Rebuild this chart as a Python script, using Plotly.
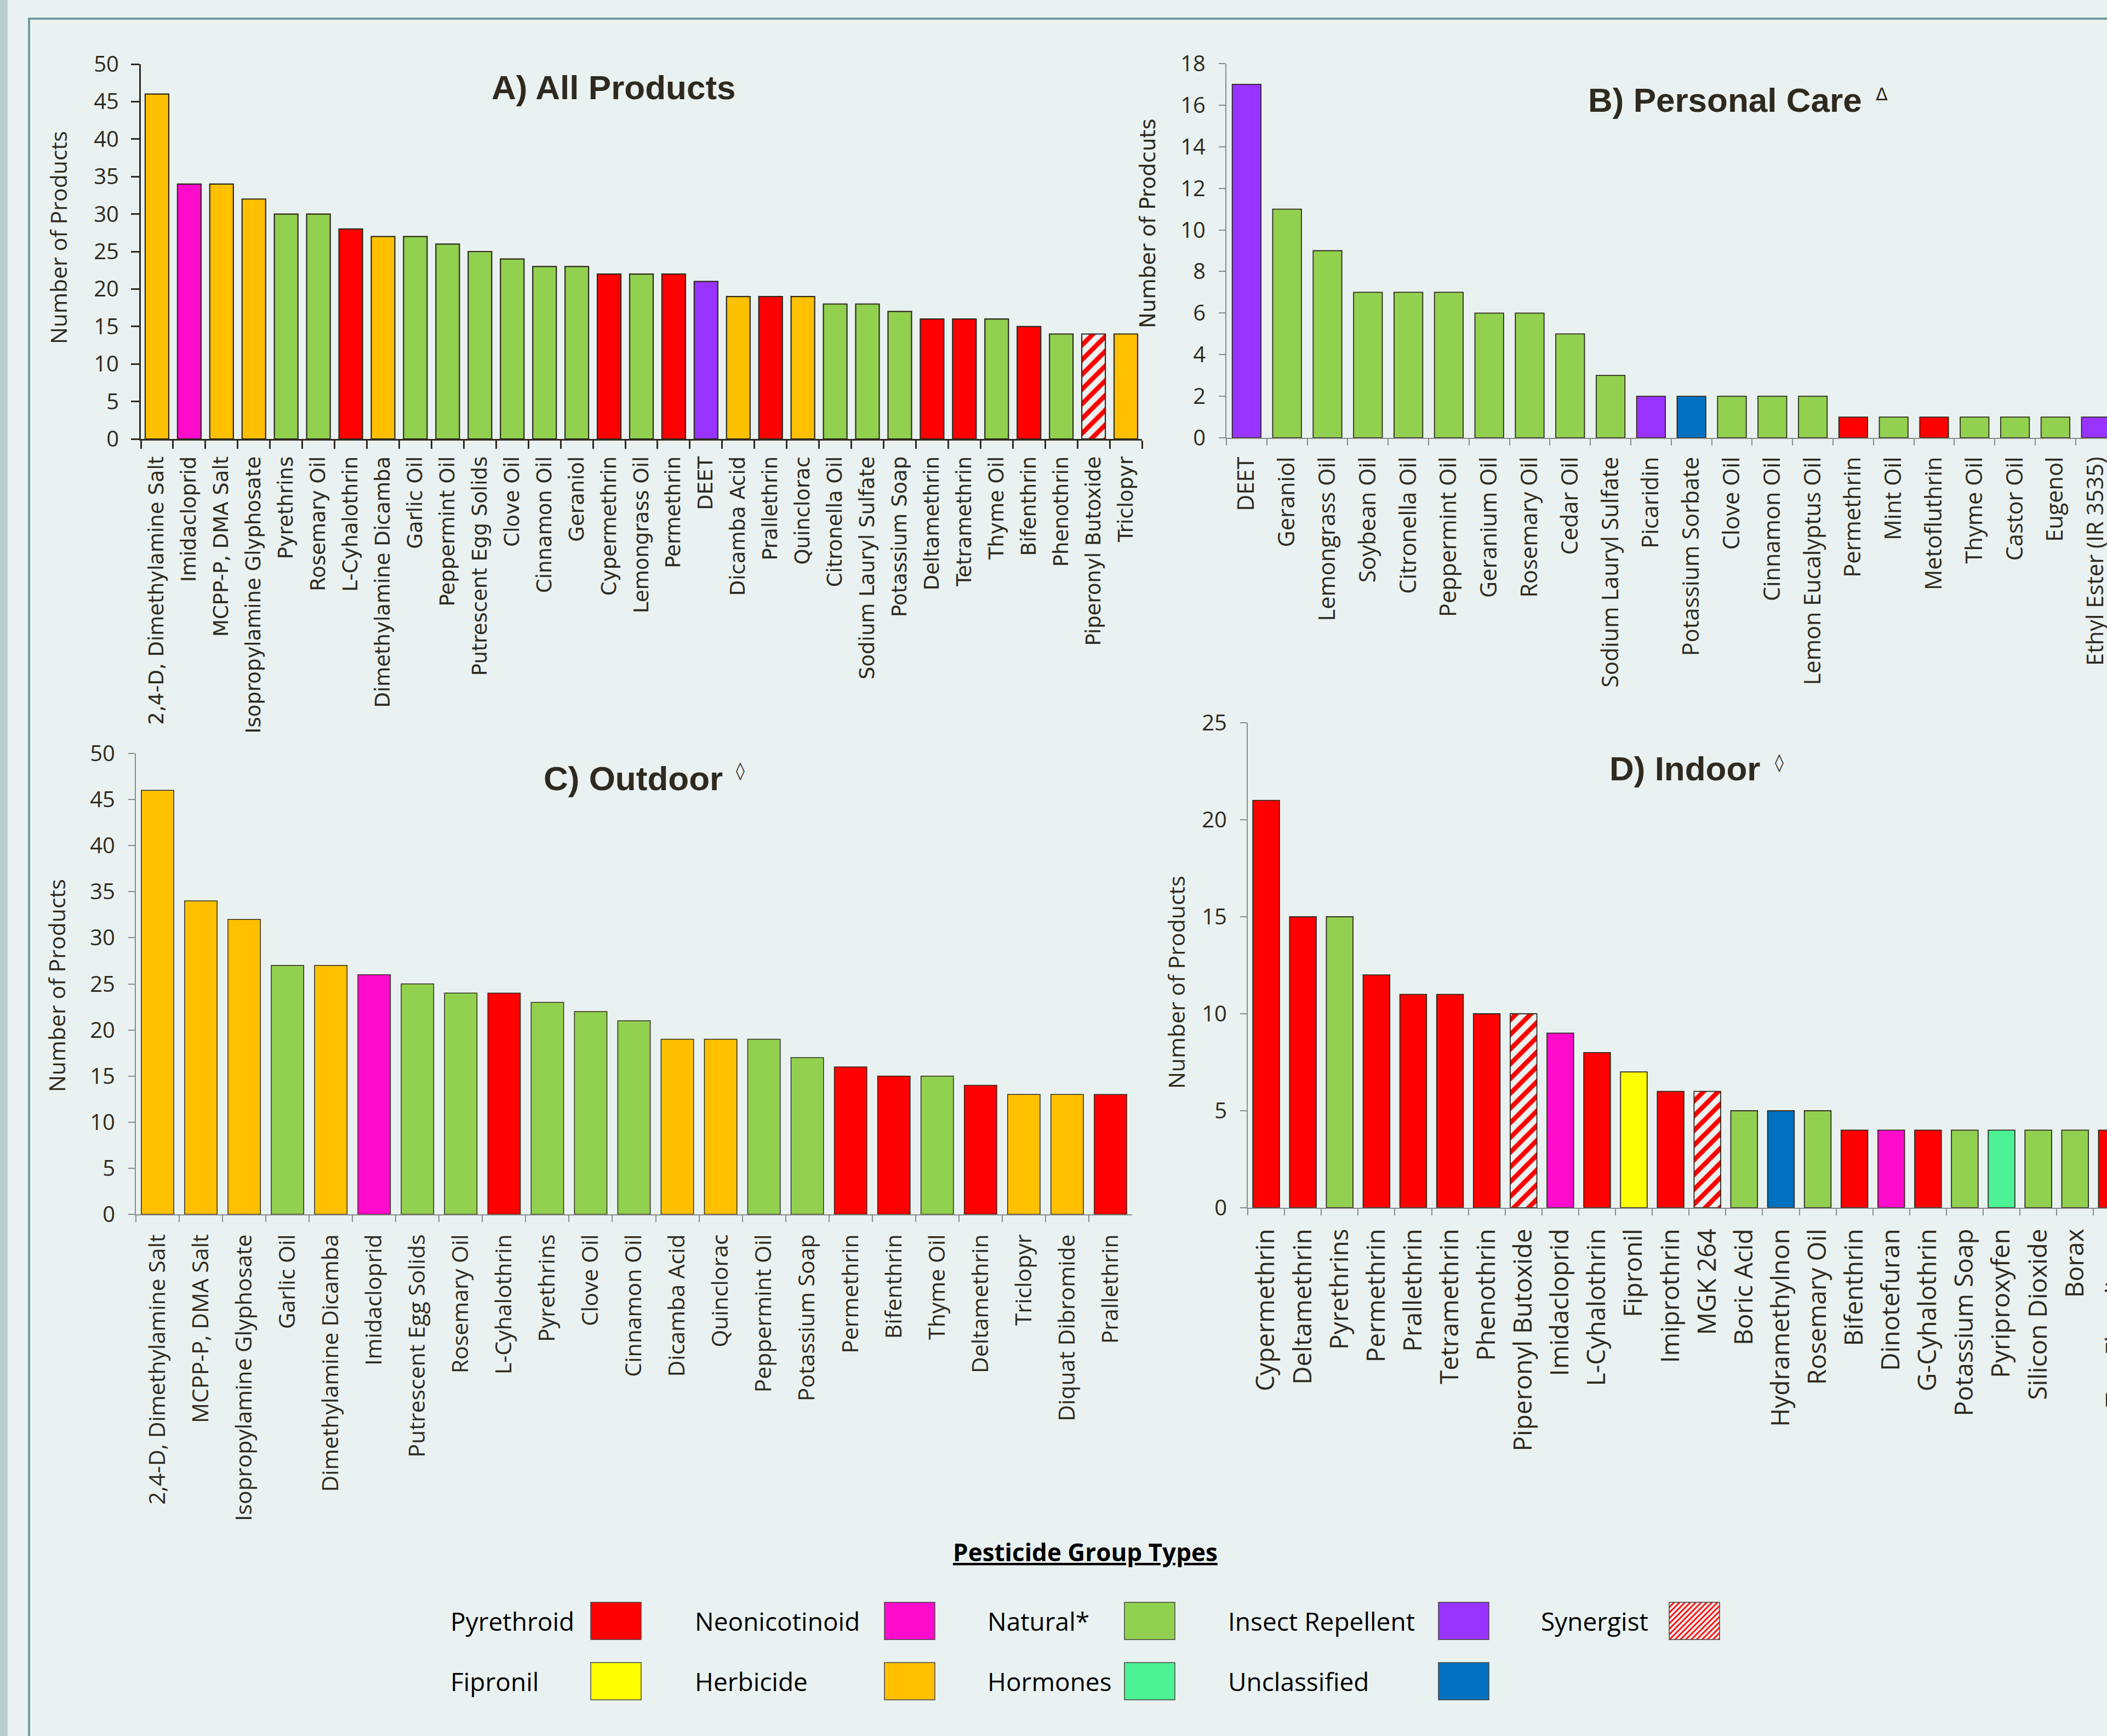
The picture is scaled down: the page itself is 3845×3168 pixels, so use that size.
import plotly.graph_objects as go

W, H = 3845, 3168

# ---------------- data ----------------
GROUP_NAMES = ["Pyrethroid", "Neonicotinoid", "Natural*", "Insect Repellent", "Synergist",
               "Fipronil", "Herbicide", "Hormones", "Unclassified"]
GROUP_KEYS = ["P", "N", "G", "R", "S", "F", "H", "M", "U"]
GROUP_COLORS = ["#FF0000", "#FF0BCC", "#92D050", "#9933FF", "#FF0000",
                "#FFFF00", "#FFC000", "#4CF294", "#0070C0"]

A_names = ["2,4-D, Dimethylamine Salt", "Imidacloprid", "MCPP-P, DMA Salt", "Isopropylamine Glyphosate",
           "Pyrethrins", "Rosemary Oil", "L-Cyhalothrin", "Dimethylamine Dicamba", "Garlic Oil",
           "Peppermint Oil", "Putrescent Egg Solids", "Clove Oil", "Cinnamon Oil", "Geraniol",
           "Cypermethrin", "Lemongrass Oil", "Permethrin", "DEET", "Dicamba Acid", "Prallethrin",
           "Quinclorac", "Citronella Oil", "Sodium Lauryl Sulfate", "Potassium Soap", "Deltamethrin",
           "Tetramethrin", "Thyme Oil", "Bifenthrin", "Phenothrin", "Piperonyl Butoxide", "Triclopyr"]
A_values = [46, 34, 34, 32, 30, 30, 28, 27, 27, 26, 25, 24, 23, 23, 22, 22, 22, 21, 19, 19,
            19, 18, 18, 17, 16, 16, 16, 15, 14, 14, 14]
A_groups = ["H", "N", "H", "H", "G", "G", "P", "H", "G", "G", "G", "G", "G", "G", "P", "G", "P", "R",
            "H", "P", "H", "G", "G", "G", "P", "P", "G", "P", "G", "S", "H"]

B_names = ["DEET", "Geraniol", "Lemongrass Oil", "Soybean Oil", "Citronella Oil", "Peppermint Oil",
           "Geranium Oil", "Rosemary Oil", "Cedar Oil", "Sodium Lauryl Sulfate", "Picaridin",
           "Potassium Sorbate", "Clove Oil", "Cinnamon Oil", "Lemon Eucalyptus Oil", "Permethrin",
           "Mint Oil", "Metofluthrin", "Thyme Oil", "Castor Oil", "Eugenol", "Ethyl Ester (IR 3535)"]
B_values = [17, 11, 9, 7, 7, 7, 6, 6, 5, 3, 2, 2, 2, 2, 2, 1, 1, 1, 1, 1, 1, 1]
B_groups = ["R", "G", "G", "G", "G", "G", "G", "G", "G", "G", "R", "U", "G", "G", "G", "P",
            "G", "P", "G", "G", "G", "R"]

C_names = ["2,4-D, Dimethylamine Salt", "MCPP-P, DMA Salt", "Isopropylamine Glyphosate", "Garlic Oil",
           "Dimethylamine Dicamba", "Imidacloprid", "Putrescent Egg Solids", "Rosemary Oil",
           "L-Cyhalothrin", "Pyrethrins", "Clove Oil", "Cinnamon Oil", "Dicamba Acid", "Quinclorac",
           "Peppermint Oil", "Potassium Soap", "Permethrin", "Bifenthrin", "Thyme Oil", "Deltamethrin",
           "Triclopyr", "Diquat Dibromide", "Prallethrin"]
C_values = [46, 34, 32, 27, 27, 26, 25, 24, 24, 23, 22, 21, 19, 19, 19, 17, 16, 15, 15, 14, 13, 13, 13]
C_groups = ["H", "H", "H", "G", "H", "N", "G", "G", "P", "G", "G", "G", "H", "H", "G", "G", "P", "P",
            "G", "P", "H", "H", "P"]

D_names = ["Cypermethrin", "Deltamethrin", "Pyrethrins", "Permethrin", "Prallethrin", "Tetramethrin",
           "Phenothrin", "Piperonyl Butoxide", "Imidacloprid", "L-Cyhalothrin", "Fipronil", "Imiprothrin",
           "MGK 264", "Boric Acid", "Hydramethylnon", "Rosemary Oil", "Bifenthrin", "Dinotefuran",
           "G-Cyhalothrin", "Potassium Soap", "Pyriproxyfen", "Silicon Dioxide", "Borax", "Tau-Fluvalinate"]
D_values = [21, 15, 15, 12, 11, 11, 10, 10, 9, 8, 7, 6, 6, 5, 5, 5, 4, 4, 4, 4, 4, 4, 4, 4]
D_groups = ["P", "P", "G", "P", "P", "P", "P", "S", "N", "P", "F", "P", "S", "G", "U", "G", "P", "N",
            "P", "G", "M", "G", "G", "P"]

PANEL_TITLES = ["A) All Products", "B) Personal Care", "C) Outdoor", "D) Indoor"]
PANEL_MARKS = ["", "\u0394", "\u25CA", "\u25CA"]
Y_TITLES = ["Number of Products", "Number of Prodcuts", "Number of Products", "Number of Products"]
LEGEND_TITLE = "Pesticide Group Types"

# ---------------- helpers ----------------
DARK = "#2E2A1F"
GRAY = "#8A8A8A"
BG = "#EAF2F1"
HATCH_FG = "#FF0000"
HATCH_BG = "#FFFFFF"


def px(x):
    return x / W


def py(y):
    return 1 - y / H


color_of = dict(zip(GROUP_KEYS, GROUP_COLORS))


def pattern_for(groups, size, solidity):
    hatched = [g == "S" for g in groups]
    return dict(shape=["/" if h else "" for h in hatched],
                fgcolor=[HATCH_FG for _ in hatched],
                bgcolor=[HATCH_BG for _ in hatched],
                fgopacity=1, size=size, solidity=solidity, fillmode="replace")


def bar_trace(names, values, groups, xa, ya, width, lw, hatch_size):
    colors = [color_of[g] for g in groups]
    return go.Bar(
        x=names, y=values, xaxis=xa, yaxis=ya, width=width,
        marker=dict(color=colors, line=dict(color=DARK, width=lw),
                    pattern=pattern_for(groups, hatch_size, 0.45)),
        hoverinfo="skip", showlegend=False)


fig = go.Figure()
fig.add_trace(bar_trace(A_names, A_values, A_groups, "x", "y", 0.73, 2.2, 19))
fig.add_trace(bar_trace(B_names, B_values, B_groups, "x2", "y2", 0.71, 1.8, 19))
fig.add_trace(bar_trace(C_names, C_values, C_groups, "x3", "y3", 0.75, 1.5, 19))
fig.add_trace(bar_trace(D_names, D_values, D_groups, "x4", "y4", 0.725, 1.8, 19))

# panel geometry (pixels): axis left, axis right, top, bottom
geo = {
    "A": dict(l=257, r=2084, t=117, b=801),
    "B": dict(l=2238, r=W, t=116, b=799),
    "C": dict(l=248, r=2066, t=1375, b=2216),
    "D": dict(l=2277, r=W, t=1319, b=2204),
}
catw_B = 73.8
catw_D = 67.1
rangeB = [-0.5, (W - geo["B"]["l"]) / catw_B - 0.5]
rangeD = [-0.5, (W - geo["D"]["l"]) / catw_D - 0.5]


def xax(g, rng, tickfont, linecolor, lw, ticklen, standoff):
    return dict(domain=[px(g["l"]), px(g["r"])], type="category", range=rng, tickangle=-90,
                ticks="outside", tickson="boundaries", ticklen=ticklen, tickwidth=lw, tickcolor=linecolor,
                showline=True, linecolor=linecolor, linewidth=lw, showgrid=False, zeroline=False,
                tickfont=tickfont, fixedrange=True, ticklabelstandoff=standoff, automargin=False)


def yax(g, rng, dtick, linecolor, lw, ticklen, standoff):
    return dict(domain=[py(g["b"]), py(g["t"])], range=rng, dtick=dtick, tick0=0,
                ticks="outside", ticklen=ticklen, tickwidth=lw, tickcolor=linecolor,
                showline=True, linecolor=linecolor, linewidth=lw, showgrid=False, zeroline=False,
                tickfont=dict(family="Open Sans", size=40, color=DARK), fixedrange=True,
                ticklabelstandoff=standoff, automargin=False)


fA = dict(family="DejaVu Sans", size=37, color=DARK)
fB = dict(family="Open Sans", size=41.5, color=DARK)
fC = dict(family="Open Sans", size=41, color=DARK)
fD = dict(family="Open Sans", size=46, color=DARK)

layout = dict(
    width=W, height=H, margin=dict(l=0, r=0, t=0, b=0),
    paper_bgcolor=BG, plot_bgcolor="rgba(0,0,0,0)", showlegend=False, barmode="overlay",
    xaxis=dict(xax(geo["A"], [-0.5, len(A_names) - 0.5], fA, DARK, 3, 15, 14), anchor="y"),
    yaxis=dict(yax(geo["A"], [0, 50], 5, DARK, 3, 15, 14), anchor="x"),
    xaxis2=dict(xax(geo["B"], rangeB, fB, GRAY, 2, 12, 16), anchor="y2"),
    yaxis2=dict(yax(geo["B"], [0, 18], 2, GRAY, 2, 12, 16), anchor="x2"),
    xaxis3=dict(xax(geo["C"], [-0.5, len(C_names) - 0.5], fC, GRAY, 2, 12, 18), anchor="y3"),
    yaxis3=dict(yax(geo["C"], [0, 50], 5, GRAY, 2, 12, 16), anchor="x3"),
    xaxis4=dict(xax(geo["D"], rangeD, fD, GRAY, 2, 12, 18), anchor="y4"),
    yaxis4=dict(yax(geo["D"], [0, 25], 5, GRAY, 2, 12, 16), anchor="x4"),
    # pixel-space axes for legend swatches
    xaxis5=dict(domain=[0, 1], range=[0, W], visible=False, fixedrange=True),
    yaxis5=dict(domain=[0, 1], range=[H, 0], visible=False, fixedrange=True),
)
fig.update_layout(**layout)

# ---------------- frame & decorations ----------------
shapes = [
    dict(type="rect", xref="paper", yref="paper", x0=0, x1=px(14), y0=-0.01, y1=1.01,
         fillcolor="#B9CFCF", line=dict(width=0), layer="below"),
    dict(type="rect", xref="paper", yref="paper", x0=px(53), x1=1.05, y0=-0.05, y1=py(34),
         fillcolor="rgba(0,0,0,0)", line=dict(color="#6E9E9D", width=4), layer="below"),
]

annotations = []
title_pos = [(1120, 160), (3148, 183), (1155, 1420), (3075, 1403)]
mark_pos = [None, (3434, 172), (1351, 1406), (3247, 1391)]
for t, (tx, ty), m, mp in zip(PANEL_TITLES, title_pos, PANEL_MARKS, mark_pos):
    annotations.append(dict(text=t, x=px(tx), y=py(ty), xref="paper", yref="paper", showarrow=False,
                            xanchor="center", yanchor="middle",
                            font=dict(family="Liberation Sans", size=62, color=DARK, weight="bold")))
    if m:
        annotations.append(dict(text=m, x=px(mp[0]), y=py(mp[1]), xref="paper", yref="paper",
                                showarrow=False, xanchor="center", yanchor="middle",
                                font=dict(family="DejaVu Sans", size=32, color=DARK)))

ytitle_pos = [(106, 434), (2094, 408), (103, 1799), (2146, 1793)]
ytitle_fonts = ["Open Sans", "DejaVu Sans", "Open Sans", "Open Sans"]
ytitle_sizes = [41, 38.5, 41, 41]
for t, (tx, ty), fam, sz in zip(Y_TITLES, ytitle_pos, ytitle_fonts, ytitle_sizes):
    annotations.append(dict(text=t, x=px(tx), y=py(ty), xref="paper", yref="paper", showarrow=False,
                            textangle=-90, xanchor="center", yanchor="middle",
                            font=dict(family=fam, size=sz, color=DARK)))

# partially visible last category label of panel D (beyond the cropped edge)
gD = geo["D"]
idx_last = len(D_names) - 1
x_last = gD["l"] + (idx_last - rangeD[0]) * catw_D + 4
annotations.append(dict(text=D_names[idx_last], x=px(x_last), y=py(gD["b"] + 36), xref="paper", yref="paper",
                        showarrow=False, textangle=-90, xanchor="center", yanchor="top", font=fD))

# ---------------- legend ----------------
annotations.append(dict(text="<u>" + LEGEND_TITLE + "</u>", x=px(1980), y=py(2832), xref="paper", yref="paper",
                        showarrow=False, xanchor="center", yanchor="middle",
                        font=dict(family="Open Sans", size=44, color="#000000", weight="bold")))

leg_text_x = [820, 1266, 1800, 2239, 2810]
leg_box_cx = [1124, 1660, 2098, 2671, 3092]
leg_row_y = [2958, 3068]
leg_box_h = 68
leg_box_w = 92
order = [["Pyrethroid", "Neonicotinoid", "Natural*", "Insect Repellent", "Synergist"],
         ["Fipronil", "Herbicide", "Hormones", "Unclassified"]]
sw_x, sw_base, sw_h, sw_col, sw_grp = [], [], [], [], []
for r, row in enumerate(order):
    for c, name in enumerate(row):
        annotations.append(dict(text=name, x=px(leg_text_x[c]), y=py(leg_row_y[r]), xref="paper", yref="paper",
                                showarrow=False, xanchor="left", yanchor="middle",
                                font=dict(family="Open Sans", size=46, color="#000000")))
        gi = GROUP_NAMES.index(name)
        sw_x.append(leg_box_cx[c])
        sw_base.append(leg_row_y[r] - leg_box_h / 2)
        sw_h.append(leg_box_h)
        sw_col.append(GROUP_COLORS[gi])
        sw_grp.append(GROUP_KEYS[gi])

fig.add_trace(go.Bar(x=sw_x, y=sw_h, base=sw_base, width=leg_box_w, xaxis="x5", yaxis="y5",
                     marker=dict(color=sw_col, line=dict(color="#444444", width=1.5),
                                 pattern=pattern_for(sw_grp, 7, 0.4)),
                     hoverinfo="skip", showlegend=False))

fig.update_layout(shapes=shapes, annotations=annotations)
fig.write_html("out.html")
